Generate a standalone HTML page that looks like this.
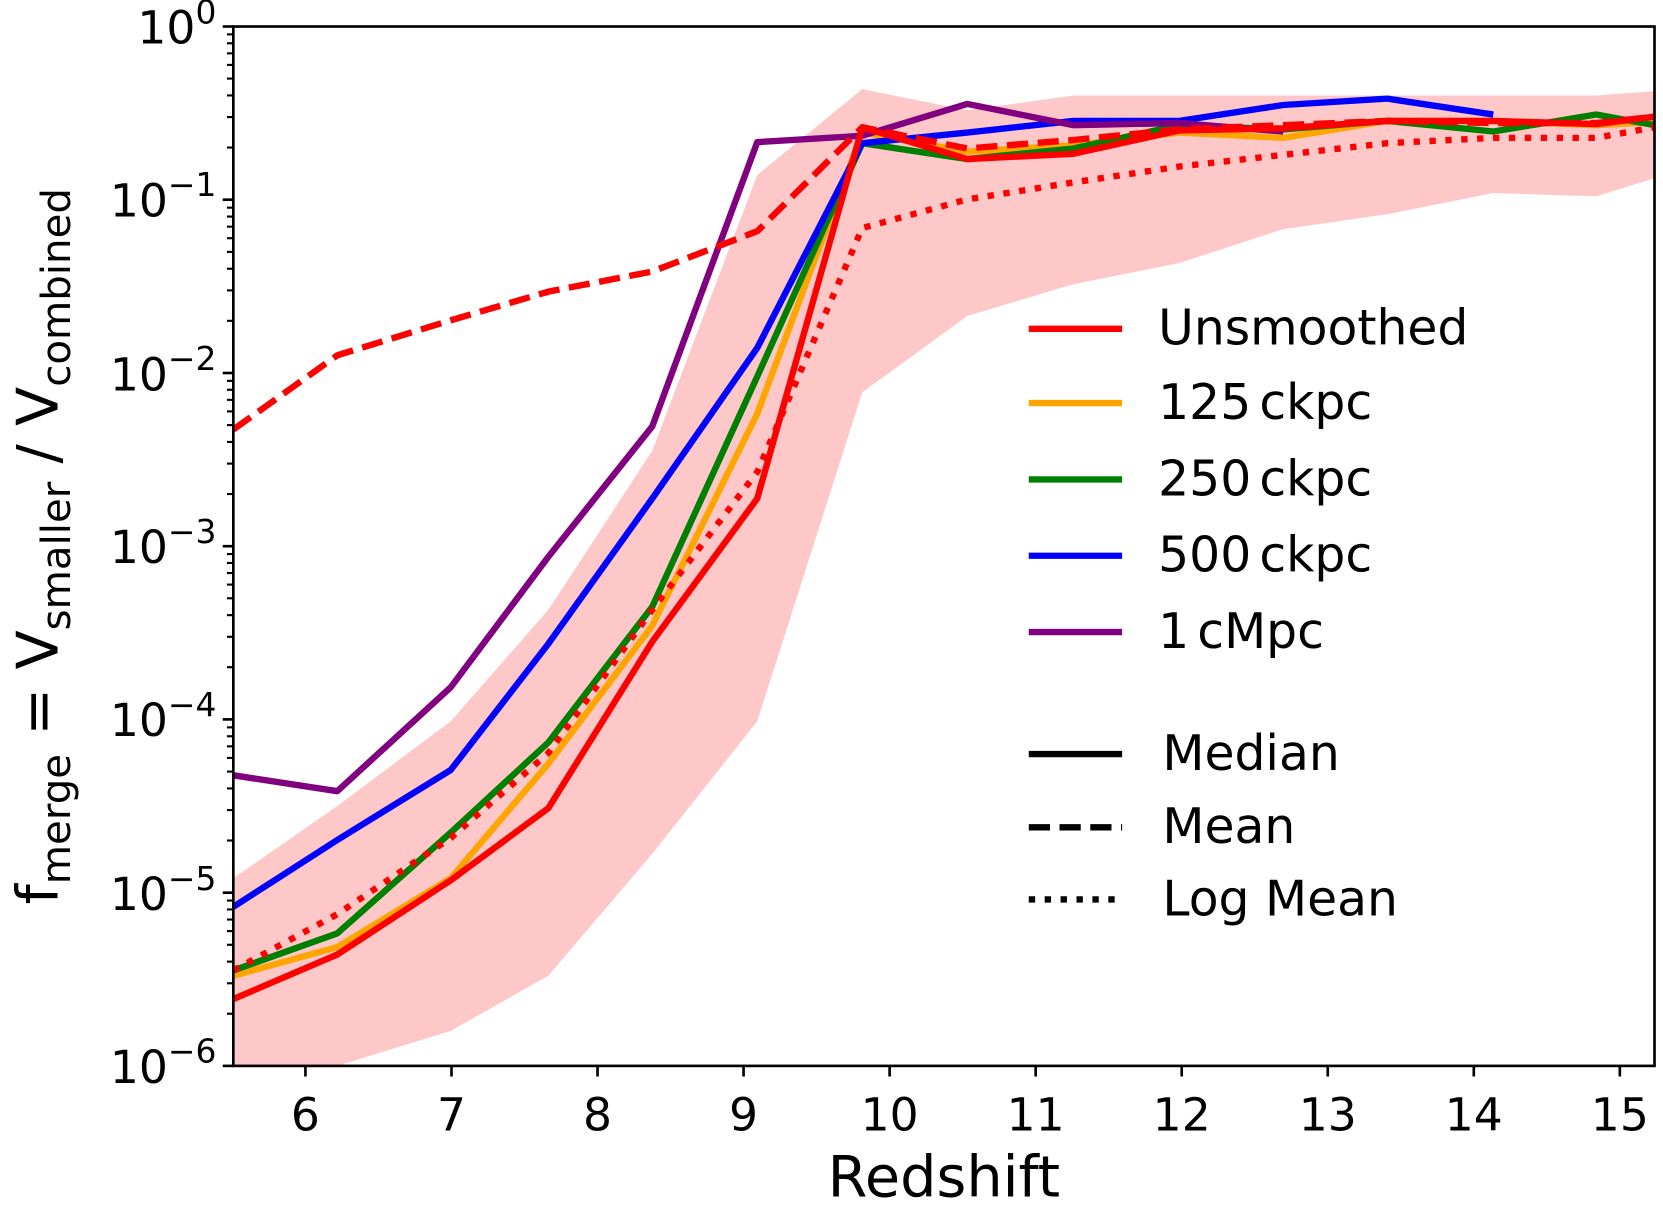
<!DOCTYPE html>
<html><head><meta charset="utf-8"><style>
html,body{margin:0;padding:0;background:#fff}
svg{display:block}
text{font-family:"DejaVu Sans","Liberation Sans",sans-serif;fill:#000}
</style></head><body>
<svg width="1663" height="1220" viewBox="0 0 1568 1150.3" preserveAspectRatio="none" xmlns="http://www.w3.org/2000/svg">
<defs>
<clipPath id="c"><rect x="220" y="25" width="1340" height="980"/></clipPath>
<g id="mt" stroke="#000" stroke-width="2">
<line x1="214" x2="220" y1="-49.2" y2="-49.2"/><line x1="214" x2="220" y1="-77.9" y2="-77.9"/>
<line x1="214" x2="220" y1="-98.3" y2="-98.3"/><line x1="214" x2="220" y1="-114.2" y2="-114.2"/>
<line x1="214" x2="220" y1="-127.1" y2="-127.1"/><line x1="214" x2="220" y1="-138" y2="-138"/>
<line x1="214" x2="220" y1="-147.5" y2="-147.5"/><line x1="214" x2="220" y1="-155.9" y2="-155.9"/>
</g>
</defs>
<g clip-path="url(#c)" fill="none" stroke-width="6" stroke-linejoin="round">
<polygon fill="#ffc8c8" stroke="none" points="220,828 318,760 425,680 517,575 615,425 714,165 813,84 912,104 1012,90 1112,90 1210,90 1308,90 1408,90 1505,90 1560,86 1560,168 1505,185 1408,182 1308,202 1210,216 1112,248 1012,268 912,298 813,370 714,680 615,805 517,920 425,972 318,1005 220,1005"/>
<polyline stroke="#ffa500" points="220,920 318,893 425,828 517,720 615,590 714,390 813,125 912,143 1012,137 1112,125 1210,130 1308,114 1408,114 1505,118 1560,115"/>
<polyline stroke="#008000" points="220,915 318,880 425,785 517,700 615,572 714,355 813,135 912,150 1012,140 1112,118 1210,122 1308,114 1408,124 1505,108 1560,118"/>
<polyline stroke="#0000ff" points="220,855 318,792 425,726 517,607 615,470 714,328 813,135 912,125 1012,114 1112,114 1210,99 1308,93 1408,108"/>
<polyline stroke="#800080" points="220,731 318,746 425,648 517,525 615,402 714,134 813,128 912,98 1012,118 1112,116 1210,124"/>
<polyline stroke="#ff0000" points="220,942 318,900 425,830 517,762 615,605 714,470 813,120 912,150 1012,145 1112,123 1210,121 1308,114 1408,114 1505,117 1560,110"/>
<polyline stroke="#ff0000" stroke-dasharray="20,9" points="220,405 318,335 425,302 517,275 615,256 714,218 813,120 912,140 1012,132 1112,122 1210,118 1308,114 1408,116 1505,116 1560,110"/>
<polyline stroke="#ff0000" stroke-dasharray="6,9" points="220,915 318,862 425,790 517,710 615,575 714,445 813,215 912,188 1012,172 1112,157 1210,146 1308,135 1408,130 1505,130 1560,120"/>
</g>
<rect x="220" y="25" width="1340" height="980" fill="none" stroke="#000" stroke-width="2.5"/>
<g stroke="#000" stroke-width="2.5">
<line x1="288" x2="288" y1="1005" y2="1015"/><line x1="425.7" x2="425.7" y1="1005" y2="1015"/>
<line x1="563.4" x2="563.4" y1="1005" y2="1015"/><line x1="701.1" x2="701.1" y1="1005" y2="1015"/>
<line x1="838.8" x2="838.8" y1="1005" y2="1015"/><line x1="976.5" x2="976.5" y1="1005" y2="1015"/>
<line x1="1114.2" x2="1114.2" y1="1005" y2="1015"/><line x1="1251.9" x2="1251.9" y1="1005" y2="1015"/>
<line x1="1389.6" x2="1389.6" y1="1005" y2="1015"/><line x1="1527.3" x2="1527.3" y1="1005" y2="1015"/>
<line x1="210" x2="220" y1="25" y2="25"/><line x1="210" x2="220" y1="188.3" y2="188.3"/>
<line x1="210" x2="220" y1="351.7" y2="351.7"/><line x1="210" x2="220" y1="515" y2="515"/>
<line x1="210" x2="220" y1="678.3" y2="678.3"/><line x1="210" x2="220" y1="841.7" y2="841.7"/>
<line x1="210" x2="220" y1="1005" y2="1005"/>
</g>
<use href="#mt" y="188.3"/><use href="#mt" y="351.7"/><use href="#mt" y="515"/>
<use href="#mt" y="678.3"/><use href="#mt" y="841.7"/><use href="#mt" y="1005"/>
<g font-size="43" text-anchor="middle">
<text x="288" y="1066">6</text><text x="425.7" y="1066">7</text><text x="563.4" y="1066">8</text>
<text x="701.1" y="1066">9</text><text x="838.8" y="1066">10</text><text x="976.5" y="1066">11</text>
<text x="1114.2" y="1066">12</text><text x="1251.9" y="1066">13</text><text x="1389.6" y="1066">14</text>
<text x="1527.3" y="1066">15</text>
</g>
<g font-size="43" text-anchor="end">
<text x="204" y="41">10<tspan font-size="31" dy="-19">0</tspan></text>
<text x="204" y="204">10<tspan font-size="31" dy="-19">−1</tspan></text>
<text x="204" y="368">10<tspan font-size="31" dy="-19">−2</tspan></text>
<text x="204" y="531">10<tspan font-size="31" dy="-19">−3</tspan></text>
<text x="204" y="694">10<tspan font-size="31" dy="-19">−4</tspan></text>
<text x="204" y="858">10<tspan font-size="31" dy="-19">−5</tspan></text>
<text x="204" y="1021">10<tspan font-size="31" dy="-19">−6</tspan></text>
</g>
<text x="890" y="1128" font-size="54" text-anchor="middle">Redshift</text>
<text transform="translate(54,515) rotate(-90)" font-size="54" text-anchor="middle">f<tspan font-size="38" dy="12">merge</tspan><tspan dy="-12"> = V</tspan><tspan font-size="38" dy="12">smaller</tspan><tspan dy="-12"> / V</tspan><tspan font-size="38" dy="12">combined</tspan></text>
<g stroke-width="6">
<line x1="970" x2="1058" y1="310" y2="310" stroke="#ff0000"/>
<line x1="970" x2="1058" y1="380" y2="380" stroke="#ffa500"/>
<line x1="970" x2="1058" y1="452" y2="452" stroke="#008000"/>
<line x1="970" x2="1058" y1="524" y2="524" stroke="#0000ff"/>
<line x1="970" x2="1058" y1="596" y2="596" stroke="#800080"/>
<line x1="970" x2="1058" y1="711" y2="711" stroke="#000"/>
<line x1="970" x2="1058" y1="780" y2="780" stroke="#000" stroke-dasharray="20,9"/>
<line x1="970" x2="1058" y1="848" y2="848" stroke="#000" stroke-dasharray="6,9"/>
</g>
<g font-size="46">
<text x="1092" y="325">Unsmoothed</text>
<text x="1092" y="395">125<tspan dx="-7"> ckpc</tspan></text>
<text x="1092" y="467">250<tspan dx="-7"> ckpc</tspan></text>
<text x="1092" y="539">500<tspan dx="-7"> ckpc</tspan></text>
<text x="1092" y="611">1<tspan dx="-7"> cMpc</tspan></text>
<text x="1096" y="726">Median</text>
<text x="1096" y="795">Mean</text>
<text x="1096" y="863">Log Mean</text>
</g>
</svg>
</body></html>
